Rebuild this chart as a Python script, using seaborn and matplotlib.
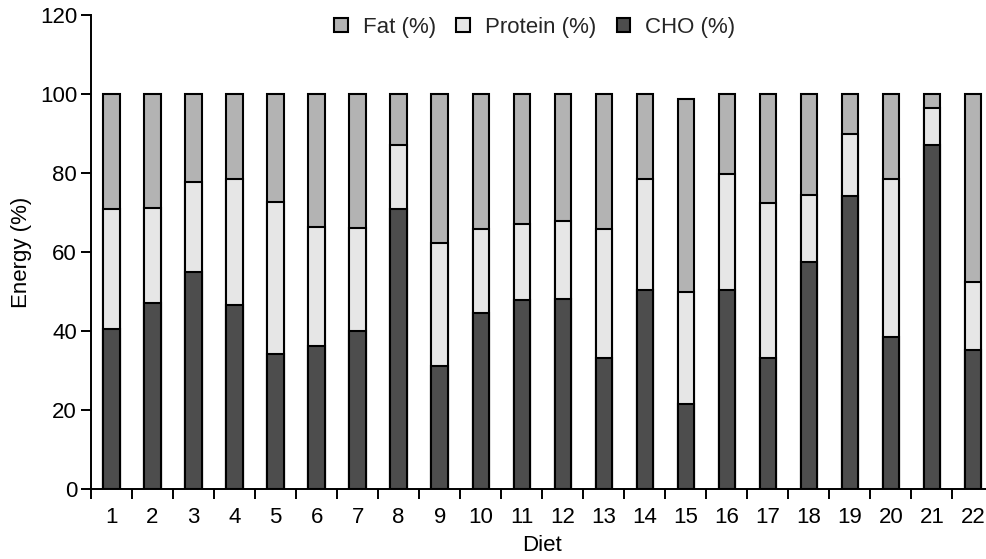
import matplotlib
matplotlib.use("Agg")
import matplotlib.pyplot as plt
import seaborn as sns
import numpy as np
import pandas as pd
from matplotlib.ticker import FixedLocator

diets = [str(i) for i in range(1, 23)]
cho = [40.5, 47.0, 55.0, 46.6, 34.1, 36.2, 40.1, 71.0, 31.1, 44.5, 47.9,
       48.1, 33.1, 50.4, 21.6, 50.4, 33.1, 57.5, 74.2, 38.6, 87.2, 35.1]
protein = [30.4, 24.1, 22.6, 32.0, 38.6, 30.1, 26.1, 16.2, 31.3, 21.2, 19.3,
           19.7, 32.7, 28.2, 28.3, 29.3, 39.2, 17.0, 15.8, 40.0, 9.3, 17.3]
fat = [29.1, 28.9, 22.4, 21.4, 27.3, 33.7, 33.8, 12.8, 37.6, 34.3, 32.8,
       32.2, 34.2, 21.4, 48.9, 20.3, 27.7, 25.5, 10.0, 21.4, 3.5, 47.6]

sns.set_theme(style="white")
plt.rcParams["font.family"] = ["Liberation Sans", "DejaVu Sans"]

FS = 16

df = pd.DataFrame({"Diet": diets, "CHO": cho, "Protein": protein, "Fat": fat})
df["ProtTop"] = df["CHO"] + df["Protein"]
df["Total"] = df["ProtTop"] + df["Fat"]

fig = plt.figure(figsize=(9.87, 5.59), dpi=100)
L = 91 / 987
R = 993.5 / 987
B = (559 - 489) / 559
T = (559 - 15) / 559
ax = fig.add_axes([L, B, R - L, T - B])

common = dict(x="Diet", order=diets, width=0.4, edgecolor="black",
              linewidth=1.5, errorbar=None, ax=ax)
sns.barplot(data=df, y="Total", color="#b3b3b3", label="Fat (%)", **common)
sns.barplot(data=df, y="ProtTop", color="#e6e6e6", label="Protein (%)", **common)
sns.barplot(data=df, y="CHO", color="#4d4d4d", label="CHO (%)", **common)

for patch, c in zip(ax.patches, ["#b3b3b3"] * 22 + ["#e6e6e6"] * 22 + ["#4d4d4d"] * 22):
    patch.set_facecolor(c)

ax.set_xlim(-0.5, 21.5)
ax.set_ylim(0, 120)
ax.set_yticks([0, 20, 40, 60, 80, 100, 120])

for s in ["top", "right"]:
    ax.spines[s].set_visible(False)
for s in ["left", "bottom"]:
    ax.spines[s].set_linewidth(1.4)
    ax.spines[s].set_color("black")

ax.xaxis.set_minor_locator(FixedLocator(np.arange(-0.5, 22, 1.0)))
ax.tick_params(axis="x", which="major", length=0, pad=13, labelsize=FS, colors="black")
ax.tick_params(axis="x", which="minor", bottom=True, length=7, width=1.4, color="black")
ax.tick_params(axis="y", which="major", left=True, length=7, width=1.4, pad=3,
               labelsize=FS, colors="black")

ax.set_xlabel("Diet", fontsize=FS, color="black", labelpad=5)
ax.set_ylabel("Energy (%)", fontsize=FS, color="black", labelpad=6)

handles, labels = ax.get_legend_handles_labels()
leg = ax.legend(handles, labels, loc="center", bbox_to_anchor=(535 / 987, (559 - 27) / 559),
                bbox_transform=fig.transFigure, ncol=3, frameon=False, fontsize=FS,
                handlelength=0.6, handleheight=0.6, handletextpad=0.7,
                columnspacing=0.9, borderaxespad=0)
for h in leg.legend_handles:
    h.set_linewidth(1.5)
    h.set_edgecolor("black")

fig.savefig("out.png", dpi=100)
